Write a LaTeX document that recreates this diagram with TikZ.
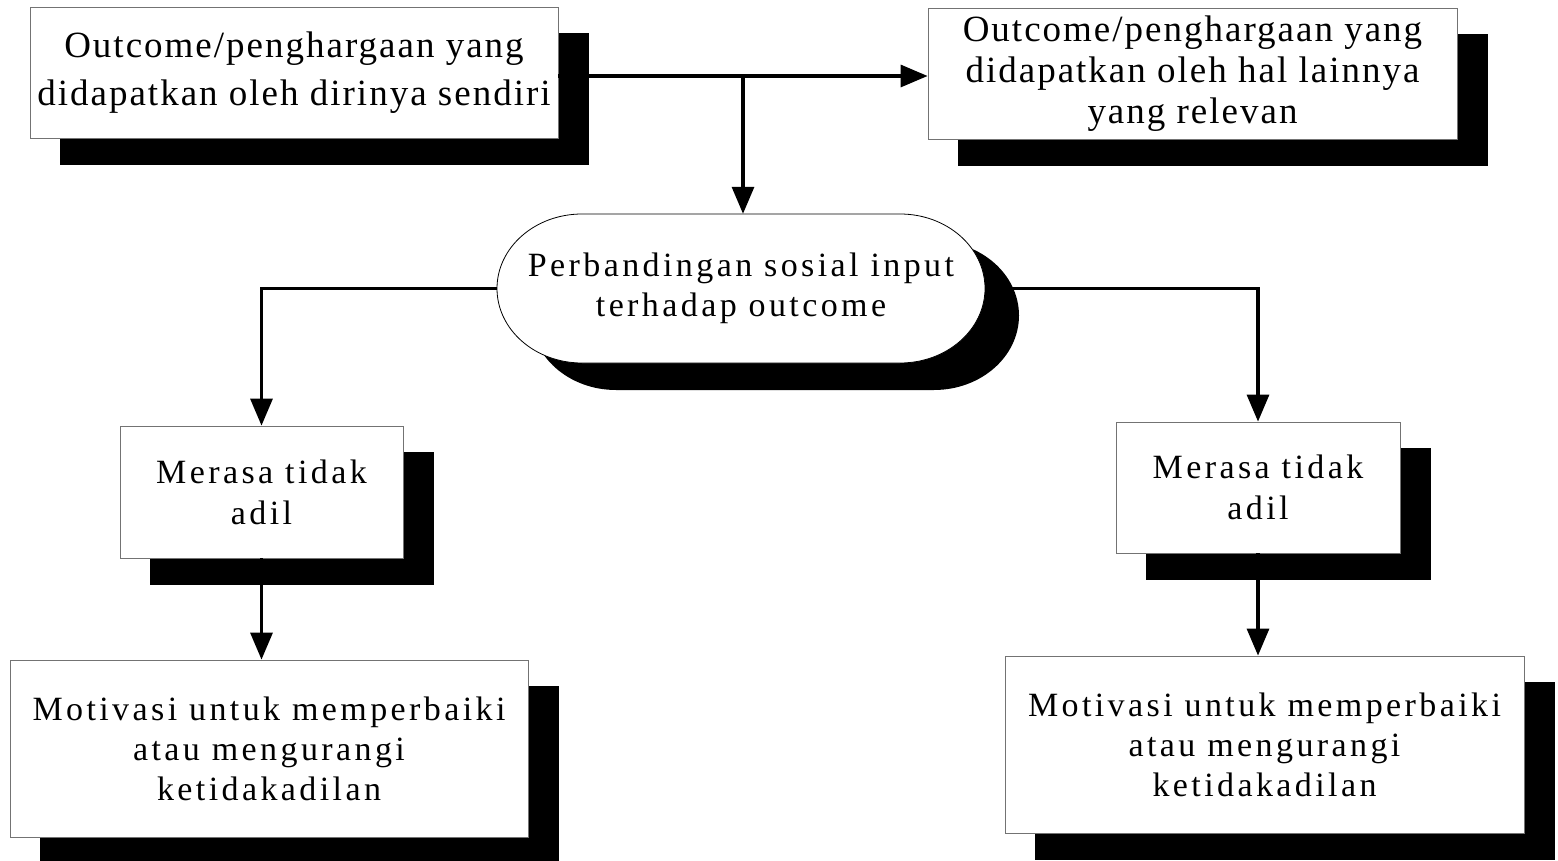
\documentclass[tikz,border=0pt]{standalone}
\usepackage{fontspec}
\newfontfamily\topfont[LetterSpace=5.4]{Liberation Serif}
\newfontfamily\bodyfont[LetterSpace=10]{Liberation Serif}
\usetikzlibrary{arrows.meta,shadows,calc}
\begin{document}
\begin{tikzpicture}[x=1pt,y=-1pt,
  box/.style={draw=black!55, line width=0.8pt, fill=white, inner sep=0pt, align=center,
    copy shadow={shadow xshift=30pt, shadow yshift=-26pt, fill=black, draw=black}},
  conn/.style={line width=3.2pt, -{Triangle[length=27pt,width=22pt]}},
  plain/.style={line width=3.2pt}
]
\useasboundingbox (0,0) rectangle (1558,861);

% top boxes
\node[box, minimum width=528pt, minimum height=131pt, font=\topfont\fontsize{37}{48}\selectfont]
  (self) at (294,72.5) {Outcome/penghargaan yang\\didapatkan oleh dirinya sendiri};
\node[box, minimum width=529pt, minimum height=131pt, font=\topfont\fontsize{37}{41}\selectfont]
  (other) at (1192.5,73.5) {Outcome/penghargaan yang\\didapatkan oleh hal lainnya\\yang relevan};

% pill
\fill[black, shift={(34,27)}] (582,214) -- (900,214)
  arc[start angle=90,end angle=-90,x radius=85pt,y radius=74.5pt] -- (582,363)
  arc[start angle=270,end angle=90,x radius=85pt,y radius=74.5pt] -- cycle;
\filldraw[fill=white, draw=black, line width=0.8pt] (582,214) -- (900,214)
  arc[start angle=90,end angle=-90,x radius=85pt,y radius=74.5pt] -- (582,363)
  arc[start angle=270,end angle=90,x radius=85pt,y radius=74.5pt] -- cycle;
\node[inner sep=0pt, align=center, minimum width=488pt, minimum height=149pt,
  font=\bodyfont\fontsize{34}{40}\selectfont] (pill) at (741,288.5)
  {Perbandingan sosial input\\terhadap outcome};

% middle boxes
\node[box, minimum width=283pt, minimum height=132pt, font=\bodyfont\fontsize{34}{41}\selectfont]
  (merL) at (261.5,492) {Merasa tidak\\adil};
\node[box, minimum width=284pt, minimum height=131pt, font=\bodyfont\fontsize{34}{41}\selectfont]
  (merR) at (1258,487.5) {Merasa tidak\\adil};

% bottom boxes
\node[box, minimum width=518pt, minimum height=177pt, font=\bodyfont\fontsize{34}{40}\selectfont]
  (motL) at (269,748.5) {Motivasi untuk memperbaiki\\atau mengurangi\\ketidakadilan};
\node[box, minimum width=519pt, minimum height=177pt, font=\bodyfont\fontsize{34}{40}\selectfont]
  (motR) at (1264.5,744.5) {Motivasi untuk memperbaiki\\atau mengurangi\\ketidakadilan};

% connectors
\coordinate (j) at (743,76);
\draw[plain] (self.east |- j) -- (j);
\draw[conn] (j) -- (other.west |- j);
\draw[conn] (j) -- (j |- pill.north);
\draw[conn] (pill.west) -| (merL.north);
\draw[conn] (pill.east) -| (merR.north);
\draw[conn] (merL.south) -- (merL.south |- motL.north);
\draw[conn] (merR.south) -- (merR.south |- motR.north);
\end{tikzpicture}
\end{document}
